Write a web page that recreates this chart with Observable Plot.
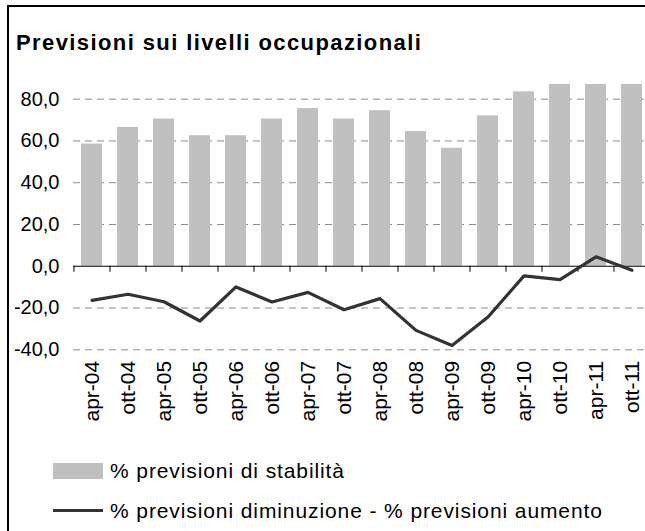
<!DOCTYPE html>
<html>
<head>
<meta charset="utf-8">
<script src="https://cdn.jsdelivr.net/npm/d3@7"></script>
<script src="https://cdn.jsdelivr.net/npm/@observablehq/plot@0.6"></script>
<style>
  html, body { margin: 0; padding: 0; background: #fff; }
  body { width: 645px; height: 531px; overflow: hidden; position: relative; font-family: "Liberation Sans", Arial, sans-serif; }
  #frame { position: absolute; left: 7px; top: 5px; width: 700px; height: 600px; border-left: 2px solid #000; border-top: 2px solid #000; }
  #title { position: absolute; left: 16px; top: 32px; font-weight: bold; font-size: 22px; line-height: 22px; letter-spacing: 1.4px; color: #000; white-space: nowrap; }
  #chart { position: absolute; left: 0; top: 0; }
  #chart svg { max-width: none !important; }
  .leg { position: absolute; left: 53px; font-size: 21px; line-height: 21px; letter-spacing: 0.9px; color: #000; white-space: nowrap; display: flex; align-items: center; }
  .sw-bar { display: inline-block; width: 50px; height: 16px; background: #c0c0c0; margin-right: 7px; }
  .sw-line { display: inline-block; width: 50px; height: 0; border-top: 3px solid #333; margin-right: 7px; }
</style>
</head>
<body>
<div id="frame"></div>
<div id="title">Previsioni sui livelli occupazionali</div>
<div id="chart"></div>
<div class="leg" id="leg1" style="top:460px"><span class="sw-bar"></span>% previsioni di stabilità</div>
<div class="leg" id="leg2" style="top:500px"><span class="sw-line"></span>% previsioni diminuzione - % previsioni aumento</div>
<script>
const categories = ["apr-04","ott-04","apr-05","ott-05","apr-06","ott-06","apr-07","ott-07","apr-08","ott-08","apr-09","ott-09","apr-10","ott-10","apr-11","ott-11"];
const stabilita = [58.5, 66.5, 70.5, 62.5, 62.5, 70.5, 75.5, 70.5, 74.5, 64.5, 56.5, 72.0, 83.5, 87.0, 87.0, 87.0];
const saldo = [-16.3, -13.4, -17.0, -26.2, -9.9, -17.1, -12.5, -20.8, -15.5, -30.7, -37.9, -24.3, -4.6, -6.4, 4.5, -1.9];
const yTicks = [-40, -20, 0, 20, 40, 60, 80];
const gridTicks = [-40, -20, 20, 40, 60, 80];

const data = categories.map((c, i) => ({cat: c, stab: stabilita[i], saldo: saldo[i]}));

const W = 660, H = 450;
const mLeft = 73, mRight = 10, mTop = 77.8, mBottom = H - 349.3;
const step = (W - mLeft - mRight) / categories.length;
const fmt = d => d.toFixed(1).replace(".", ",");

const chart = Plot.plot({
  width: W,
  height: H,
  marginLeft: mLeft,
  marginRight: mRight,
  marginTop: mTop,
  marginBottom: mBottom,
  style: {fontFamily: "Liberation Sans, Arial, sans-serif", fontSize: "20px", color: "#000", background: "transparent", overflow: "visible", maxWidth: "none"},
  x: {domain: categories, paddingInner: 0.4286, paddingOuter: 0.2143},
  y: {domain: [-40, 90]},
  marks: [
    Plot.ruleY(gridTicks, {stroke: "#8c8c8c", strokeWidth: 1, strokeDasharray: "7,5"}),
    Plot.barY(data, {x: "cat", y: "stab", fill: "#c0c0c0"}),
    Plot.ruleY([0], {stroke: "#000", strokeWidth: 1}),
    Plot.ruleX(categories, {x: d => d, y1: 0, y2: 0, insetBottom: -6, dx: -step / 2, stroke: "#000", strokeWidth: 1}),
    Plot.line(data, {x: "cat", y: "saldo", stroke: "#333", strokeWidth: 3.2, strokeLinejoin: "round"}),
    Plot.axisY({ticks: yTicks, tickSize: 0, tickPadding: 14, tickFormat: fmt, fontSize: 20}),
    Plot.axisX({anchor: "bottom", tickRotate: -90, tickSize: 0, tickPadding: 11, fontSize: 21, label: null, style: {letterSpacing: "2.6px"}})
  ]
});
document.getElementById("chart").appendChild(chart);
</script>
</body>
</html>
